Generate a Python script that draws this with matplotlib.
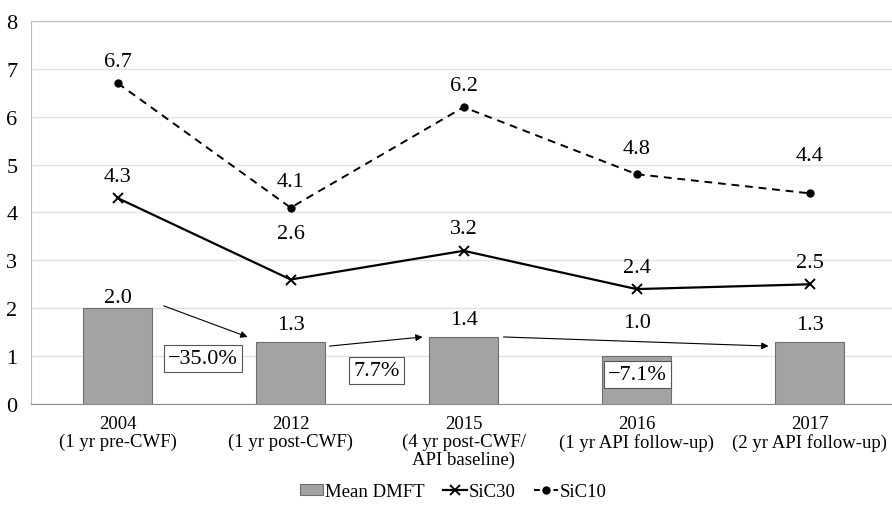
import matplotlib.pyplot as plt
import numpy as np
from matplotlib.lines import Line2D
from matplotlib.patches import Patch

plt.rcParams['font.family'] = ['Liberation Serif', 'DejaVu Serif']

# data
categories = ['2004\n(1 yr pre-CWF)', '2012\n(1 yr post-CWF)',
              '2015\n(4 yr post-CWF/\nAPI baseline)',
              '2016\n(1 yr API follow-up)', '2017\n(2 yr API follow-up)']
mean_dmft = [2.0, 1.3, 1.4, 1.0, 1.3]
sic30 = [4.3, 2.6, 3.2, 2.4, 2.5]
sic10 = [6.7, 4.1, 6.2, 4.8, 4.4]
pct_change = ['\u221235.0%', '7.7%', '\u22127.1%']

x = np.arange(len(categories))

fig = plt.figure(figsize=(8.92, 5.06), dpi=100)
ax = fig.add_axes([0.035, 0.1996, 0.9695, 0.757])

bar_col = '#a3a3a3'
ax.bar(x, mean_dmft, width=0.4, color=bar_col, edgecolor='#6e6e6e',
       linewidth=0.8, zorder=2)
ax.plot(x, sic30, color='black', lw=1.6, marker='x', ms=7, mew=1.4, zorder=3)
ax.plot(x, sic10, color='black', lw=1.4, ls=(0, (4, 3)), marker='o', ms=5,
        zorder=3)

ax.set_xlim(-0.5, len(categories) - 0.5)
ax.set_ylim(0, 8)
ax.set_yticks(range(0, 9))
ax.set_xticks(x)
ax.set_xticklabels(categories, fontsize=13.5, linespacing=1.05)
ax.tick_params(axis='both', length=0)
ax.tick_params(axis='y', pad=10, labelsize=16)
ax.tick_params(axis='x', pad=8)
ax.grid(axis='y', color='#e3e3e3', lw=1, zorder=0)
ax.set_axisbelow(True)
for s in ['top', 'left', 'right']:
    ax.spines[s].set_color('#bdbdbd')
ax.spines['bottom'].set_color('#8c8c8c')

# value labels
bar_label_y = [2.23, 1.67, 1.77, 1.71, 1.67]
for i, v in enumerate(mean_dmft):
    ax.text(x[i], bar_label_y[i], f'{v:.1f}', ha='center', va='center',
            fontsize=16, zorder=5)

off30 = [22, 46, 22, 22, 22]
off10 = [22, 26, 22, 26, 38]
for i in range(len(x)):
    ax.annotate(f'{sic30[i]:.1f}', (x[i], sic30[i]), xytext=(0, off30[i]),
                textcoords='offset pixels', ha='center', va='center',
                fontsize=16, zorder=5)
    ax.annotate(f'{sic10[i]:.1f}', (x[i], sic10[i]), xytext=(0, off10[i]),
                textcoords='offset pixels', ha='center', va='center',
                fontsize=16, zorder=5)

# change arrows and boxes
arrows = [((0.266, 2.05), (0.751, 1.40)),
          ((1.225, 1.21), (1.763, 1.40)),
          ((2.231, 1.40), (3.763, 1.21))]
for (x0, y0), (x1, y1) in arrows:
    ax.annotate('', xy=(x1, y1), xytext=(x0, y0),
                arrowprops=dict(arrowstyle='-|>', color='black', lw=0.8,
                                mutation_scale=10, shrinkA=0, shrinkB=0),
                zorder=4)

box_pos = [(0.491, 0.96), (1.497, 0.71), (3.006, 0.61)]
for (bx, by), t in zip(box_pos, pct_change):
    ax.text(bx, by, t, ha='center', va='center', fontsize=16, zorder=6,
            bbox=dict(boxstyle='square,pad=0.18', facecolor='white',
                      edgecolor='#555555', lw=0.8))

handles = [Patch(facecolor=bar_col, edgecolor='#6e6e6e', lw=0.8),
           Line2D([], [], color='black', lw=1.6, marker='x', ms=7, mew=1.4),
           Line2D([], [], color='black', lw=1.4, ls=(0, (3, 2)), marker='o',
                  ms=5)]
fig.legend(handles, ['Mean DMFT', 'SiC30', 'SiC10'], loc='center',
           bbox_to_anchor=(0.508, 0.026), ncol=3, frameon=False,
           fontsize=13.5, handlelength=1.25, handleheight=0.55,
           handletextpad=0.1, columnspacing=1.0)

fig.savefig('out.png', dpi=100)
